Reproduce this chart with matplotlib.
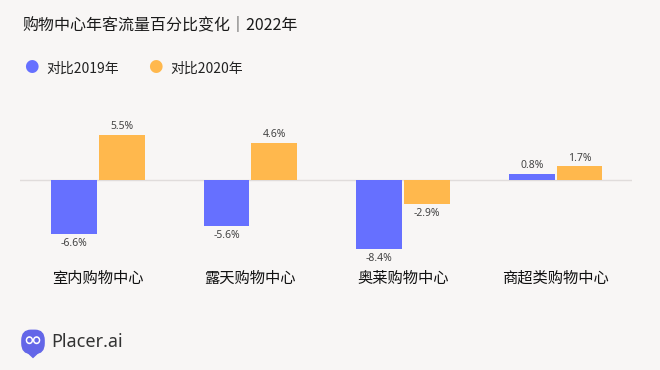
import matplotlib
matplotlib.use("Agg")
import matplotlib.pyplot as plt
from matplotlib.patches import Circle, FancyBboxPatch, Polygon
import numpy as np

plt.rcParams['font.family'] = ['Noto Sans CJK SC', 'DejaVu Sans']

categories = ["室内购物中心", "露天购物中心", "奥莱购物中心", "商超类购物中心"]
vs2019 = [-6.6, -5.6, -8.4, 0.8]
vs2020 = [5.5, 4.6, -2.9, 1.7]
series_names = ["对比2019年", "对比2020年"]
title = "购物中心年客流量百分比变化｜2022年"

c_blue = "#6670ff"
c_orange = "#ffb84d"
bg = "#f8f6f5"

fig = plt.figure(figsize=(6.6, 3.7), dpi=100, facecolor=bg)
ax = fig.add_axes([20/660, 1-262/370, 612/660, 139/370])
ax.set_facecolor(bg)
x = np.arange(len(categories))
w = 0.30
gap = 0.013
b1 = ax.bar(x - w/2 - gap/2, vs2019, width=w, color=c_blue)
b2 = ax.bar(x + w/2 + gap/2, vs2020, width=w, color=c_orange)
ax.axhline(0, color="#e0dcdb", lw=1, zorder=0)
ax.set_xlim(-0.51, 3.5)
ax.set_ylim(-10, 7)
ax.axis('off')

for bars, vals in ((b1, vs2019), (b2, vs2020)):
    for b, v in zip(bars, vals):
        cx = b.get_x() + b.get_width()/2
        if v >= 0:
            ax.annotate(f"{v:.1f}%", (cx, v), xytext=(0, 2), textcoords="offset points",
                        ha="center", va="bottom", fontsize=7.5, color="#444444",
                        family=['Noto Sans'])
        else:
            ax.annotate(f"{v:.1f}%", (cx, v), xytext=(0, -3), textcoords="offset points",
                        ha="center", va="top", fontsize=7.5, color="#444444",
                        family=['Noto Sans'])

for xi, cat in zip(x, categories):
    fig.text((20 + (xi + 0.51) * 152.5) / 660, 1 - 278/370, cat, ha="center", va="center",
             fontsize=11, color="#111111")

fig.text(22/660, 1-25/370, title, ha="left", va="center", fontsize=11.5, color="#1a1a1a",
         fontweight="medium")

# legend
fig.text(31/660, 1-66/370, "●", ha="center", va="center", fontsize=12, color=c_blue,
         family=['DejaVu Sans'])
fig.text(46/660, 1-69/370, series_names[0], ha="left", va="center", fontsize=10, color="#222222")
fig.text(155/660, 1-66/370, "●", ha="center", va="center", fontsize=12, color=c_orange,
         family=['DejaVu Sans'])
fig.text(170/660, 1-69/370, series_names[1], ha="left", va="center", fontsize=10, color="#222222")

# logo
logo_ax = fig.add_axes([18/660, 1-360/370, 30/660, 33/370])
logo_ax.set_xlim(0, 1); logo_ax.set_ylim(0, 1); logo_ax.axis('off')
logo_ax.add_patch(FancyBboxPatch((0.18, 0.25), 0.64, 0.6, boxstyle="round,pad=0.05,rounding_size=0.3",
                                 color="#6366e8"))
logo_ax.add_patch(Polygon([[0.3, 0.25], [0.7, 0.25], [0.5, 0.08]], color="#6366e8"))
logo_ax.add_patch(Circle((0.38, 0.6), 0.1, color="white"))
logo_ax.add_patch(Circle((0.62, 0.6), 0.1, color="white"))
logo_ax.add_patch(Circle((0.38, 0.6), 0.05, color="#6366e8"))
logo_ax.add_patch(Circle((0.62, 0.6), 0.05, color="#6366e8"))
fig.text(51/660, 1-342/370, "Placer.ai", ha="left", va="center", fontsize=13, color="#333333",
         family=['Noto Sans'], fontweight="semibold")

fig.savefig("out.png", dpi=100, facecolor=bg)
